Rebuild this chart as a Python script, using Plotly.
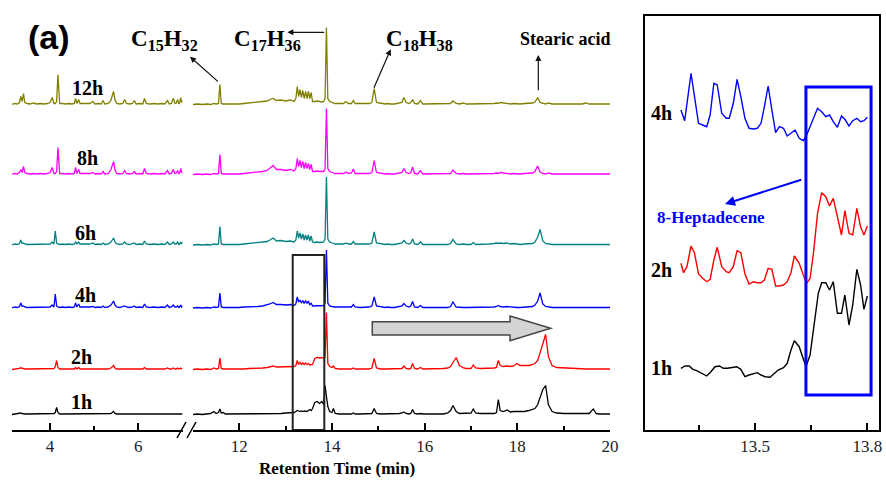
import plotly.graph_objects as go

W, H = 886, 481
MB = 51
PH = H - MB  # plot-area height in px


def PX(px):
    return px / W


def PY(py):
    return (PH - py) / PH


# ---------------- data ----------------
samples = ["12h", "8h", "6h", "4h", "2h", "1h"]
colors = ["#808000", "#ff00ff", "#008080", "#0000ff", "#ff0000", "#000000"]
offsets = [325.5, 255.5, 185, 122, 60.5, 15.5]

# left segment retention times (min)
L_T = [3.14, 3.20, 3.26, 3.31, 3.34, 3.37, 3.40, 3.43, 3.48, 3.55,
       3.62, 3.70, 3.78, 3.86, 3.94, 4.00, 4.05, 4.09, 4.12, 4.15,
       4.18, 4.22, 4.28, 4.35, 4.42, 4.50, 4.55, 4.58, 4.61, 4.65,
       4.68, 4.75, 4.82, 4.90, 4.97, 5.02, 5.10, 5.16, 5.20, 5.24,
       5.32, 5.38, 5.41, 5.44, 5.47, 5.51, 5.58, 5.65, 5.69, 5.73,
       5.80, 5.87, 5.91, 5.95, 6.03, 6.10, 6.14, 6.18, 6.26, 6.35,
       6.44, 6.53, 6.60, 6.66, 6.70, 6.75, 6.79, 6.83, 6.86, 6.89,
       6.92, 6.94, 6.96, 6.98, 7.00]

L_12h = [0, 1, 0.5, 2, 8, 3, 11, 2, 1, 0.5,
         1.5, 0.5, 1, 0.5, 1, 2, 7, 1, 1, 3,
         30, 1, 1, 0.5, 1, 0.5, 1, 6, 1, 5,
         1, 1, 0.5, 1, 3, 0.5, 1, 0.5, 4, 0.5,
         1, 4, 9, 13, 5, 1, 0.5, 1, 5, 1,
         0.5, 1, 4, 0.5, 1, 0.5, 6, 1, 0.5, 1,
         0.5, 1, 0.5, 4, 0.5, 1, 6, 1, 1.5, 5,
         0.5, 2, 7, 2, 4]
L_8h = [0, 1, 0.5, 2, 5, 2, 8, 2, 1, 0.5,
        1, 0.5, 1, 0.5, 1, 2, 7, 1, 1, 3,
        27, 1, 1, 0.5, 1, 0.5, 1, 7, 1, 5,
        1, 1, 0.5, 1, 2, 0.5, 1, 0.5, 3, 0.5,
        1, 5, 9, 13, 5, 1, 0.5, 1, 4, 1,
        0.5, 1, 3, 0.5, 1, 0.5, 6, 1, 0.5, 1,
        0.5, 1, 0.5, 4, 0.5, 1, 5, 1, 1.5, 4,
        0.5, 2, 6, 2, 3]
L_6h = [0, 1, 0.5, 1.5, 5, 1.5, 2, 1, 0.5, 0.5,
        1, 0.5, 1, 0.5, 1, 1, 3, 1, 14, 2,
        1, 0.5, 1, 0.5, 1, 0.5, 1, 3, 1, 3,
        1, 1, 0.5, 1, 2, 0.5, 1, 0.5, 2, 0.5,
        1, 3, 5, 7, 3, 1, 0.5, 1, 3, 1,
        0.5, 1, 2, 0.5, 1, 0.5, 4, 1, 0.5, 1,
        0.5, 1, 0.5, 3, 0.5, 1, 3, 1, 1, 3,
        0.5, 1.5, 3, 1, 3]
L_4h = [0, 1, 0.5, 1.5, 5, 1.5, 2, 1, 0.5, 0.5,
        1, 0.5, 1, 0.5, 1, 1, 3, 1, 14, 2,
        1, 0.5, 1, 0.5, 1, 0.5, 1, 5, 1, 4,
        1, 1, 0.5, 1, 1.5, 0.5, 1, 0.5, 2, 0.5,
        1, 3, 5, 7, 3, 1, 0.5, 1, 2, 1,
        0.5, 1, 2, 0.5, 1, 0.5, 4, 1, 0.5, 1,
        0.5, 1, 0.5, 3, 0.5, 1, 3, 1, 1, 2,
        0.5, 1.5, 3, 1, 2]
L_2h = [0, 0.5, 0.5, 1, 2, 1, 1, 0.5, 0.5, 0.5,
        0.5, 0.5, 0.5, 0.5, 0.5, 0.5, 1, 1, 3, 9,
        2, 0.5, 0.5, 0.5, 0.5, 0.5, 0.5, 2, 0.5, 2,
        0.5, 0.5, 0.5, 0.5, 1, 0.5, 0.5, 0.5, 1, 0.5,
        0.5, 1.5, 2.5, 4, 1.5, 0.5, 0.5, 0.5, 1, 0.5,
        0.5, 0.5, 1, 0.5, 0.5, 0.5, 2, 0.5, 0.5, 0.5,
        0.5, 0.5, 0.5, 1.5, 0.5, 0.5, 1.5, 0.5, 0.5, 1.5,
        0.5, 1, 1.5, 0.5, 1]
L_1h = [0, 0.5, 0.5, 1, 1.5, 1, 0.5, 0.5, 0.5, 0.5,
        0.5, 0.5, 0.5, 0.5, 0.5, 0.5, 0.5, 1, 2, 7,
        2, 0.5, 0.5, 0.5, 0.5, 0.5, 0.5, 1, 0.5, 1,
        0.5, 0.5, 0.5, 0.5, 0.5, 0.5, 0.5, 0.5, 0.5, 0.5,
        0.5, 1, 2, 3, 1, 0.5, 0.5, 0.5, 0.5, 0.5,
        0.5, 0.5, 0.5, 0.5, 0.5, 0.5, 1, 0.5, 0.5, 0.5,
        0.5, 0.5, 0.5, 0.5, 0.5, 0.5, 0.5, 0.5, 0.5, 0.5,
        0.5, 0.5, 1, 0.5, 0.5]

# right segment retention times (min)
R_T = [11.00, 11.10, 11.20, 11.30, 11.38, 11.45, 11.50, 11.55, 11.58, 11.61,
       11.65, 11.70, 11.80, 11.90, 12.00, 12.10, 12.20, 12.30, 12.40, 12.50,
       12.60, 12.66, 12.73, 12.80, 12.90, 13.00, 13.10, 13.18, 13.22, 13.25,
       13.28, 13.31, 13.34, 13.37, 13.40, 13.43, 13.46, 13.49, 13.52, 13.55,
       13.58, 13.63, 13.68, 13.73, 13.78, 13.82, 13.85, 13.88, 13.91, 13.95,
       14.00, 14.03, 14.07, 14.15, 14.25, 14.30, 14.35, 14.42, 14.46, 14.50,
       14.60, 14.70, 14.80, 14.86, 14.91, 14.96, 15.05, 15.15, 15.20, 15.25,
       15.35, 15.45, 15.51, 15.55, 15.60, 15.66, 15.70, 15.74, 15.78, 15.85,
       15.91, 15.96, 16.05, 16.15, 16.25, 16.40, 16.50, 16.56, 16.61, 16.68,
       16.75, 16.84, 16.90, 17.00, 17.05, 17.10, 17.20, 17.30, 17.40, 17.50,
       17.55, 17.59, 17.63, 17.70, 17.78, 17.85, 17.92, 17.99, 18.06, 18.15,
       18.25, 18.33, 18.38, 18.44, 18.49, 18.55, 18.61, 18.67, 18.75, 18.85,
       19.00, 19.15, 19.30, 19.40, 19.48, 19.55, 19.64, 19.70, 19.75, 19.85,
       20.00]

R_12h = [0, 0.5, 0, 0.5, 0, 1, 0.5, 1, 20, 1,
         0.5, 0.5, 0, 0.5, 0.5, 1, 1.5, 1.5, 2, 2.5,
         3.5, 5, 6, 4, 4.5, 3.5, 4.5, 3, 6, 18,
         8, 15, 7, 14, 6, 13, 6, 13, 6, 12,
         3, 3, 3.5, 3, 2.5, 3, 6, 77, 6, 3,
         2, 1.5, 1, 1, 1, 3, 1, 1, 4, 1,
         1, 0.5, 1, 2, 16, 2, 1, 0.5, 1, 0.5,
         0.5, 1, 2, 7, 2, 1, 2, 5, 1, 0.5,
         4, 0.5, 0.5, 0.5, 1, 0.5, 0.5, 1, 3.5, 1,
         0.5, 1.5, 0.5, 0.5, 0.5, 0.5, 0.5, 0.5, 1, 1,
         1.5, 1, 2, 1.5, 1, 0.5, 1, 0.5, 0.5, 1,
         1, 1.5, 2.5, 7, 2, 1, 0.5, 1.5, 0.5, 0.5,
         0.5, 0.5, 0.5, 0.5, 1.5, 0.5, 0.5, 0.5, 1, 0.5,
         0.5]
R_8h = [0, 0.5, 0, 0.5, 0, 1, 0.5, 1, 20, 1,
        0.5, 0.5, 0, 0.5, 0.5, 1, 1.5, 1.5, 2.5, 3,
        4, 6, 9, 5, 5, 4, 5, 3.5, 6, 16,
        8, 14, 7, 13, 6, 12, 6, 11, 5, 10,
        3, 3, 3.5, 3, 3, 3, 6, 66, 6, 3,
        2, 1.5, 1, 1, 1, 2.5, 1, 1.5, 5.5, 1,
        1, 0.5, 1, 2, 14, 2, 1, 0.5, 1, 0.5,
        0.5, 1, 2, 6, 2, 1, 2, 7.5, 1, 0.5,
        4, 0.5, 0.5, 0.5, 1, 0.5, 0.5, 1, 4.5, 1,
        0.5, 1, 0.5, 0.5, 0.5, 0.5, 0.5, 0.5, 1, 1,
        1.5, 1, 2, 1.5, 1, 0.5, 1, 0.5, 0.5, 1,
        1, 1.5, 3, 8.5, 2.5, 1, 0.5, 1.5, 0.5, 0.5,
        0.5, 0.5, 0.5, 0.5, 1, 0.5, 0.5, 0.5, 1, 0.5,
        0.5]
R_6h = [0, 0.5, 0, 0.5, 0, 1, 0.5, 1, 18.5, 1,
        0.5, 0.5, 0, 0.5, 0.5, 1, 1.5, 1.5, 2, 2.5,
        3.5, 5, 7, 4, 4.5, 3.5, 4, 3, 5, 14,
        7, 12, 6, 11, 5, 10, 5, 10, 4, 9,
        3, 2.5, 3, 2.5, 2.5, 3, 6, 68, 6, 3,
        2, 1.5, 1, 1, 1, 2, 1, 1, 3.5, 1,
        1, 0.5, 1, 2, 13, 2, 1, 0.5, 1, 0.5,
        0.5, 1, 2, 4.5, 2, 1, 2, 6, 1, 0.5,
        3, 0.5, 0.5, 0.5, 1, 0.5, 0.5, 1.5, 5.5, 1,
        0.5, 1, 0.5, 0.5, 2.5, 0.5, 0.5, 0.5, 1, 1.5,
        2, 1.5, 2, 1.5, 2, 1, 1.5, 1, 0.5, 1,
        1, 1.5, 3, 8, 15.5, 4, 1.5, 1, 0.5, 0.5,
        0.5, 0.5, 0.5, 0.5, 1, 0.5, 0.5, 0.5, 0.5, 0.5,
        0.5]
R_4h = [0, 0.5, 0, 0.5, 0, 1, 0.5, 1, 15, 1,
        0.5, 0.5, 0, 0.5, 0.5, 1, 1, 1.5, 1.5, 2,
        3, 4, 5.5, 3.5, 3.5, 3, 3.5, 2.5, 4, 11,
        6, 8, 5, 7.5, 4.5, 7.5, 4.5, 7, 3, 5,
        2, 2, 2.5, 2, 2, 2.5, 5, 58, 5, 2,
        1.5, 1, 1, 1, 1, 1.5, 1, 1, 3.5, 1,
        0.5, 0.5, 1, 2, 11, 2, 1, 0.5, 1, 0.5,
        0.5, 1, 2, 4.5, 2, 1, 2, 6.5, 1, 0.5,
        2.5, 0.5, 0.5, 0.5, 0.5, 0.5, 0.5, 1.5, 6, 1,
        0.5, 0.5, 0.5, 0.5, 1, 0.5, 0.5, 0.5, 1, 1,
        1.5, 2.5, 1.5, 1, 1.5, 1, 1, 0.5, 0.5, 1,
        1, 1.5, 3, 7, 15, 4, 1.5, 1, 0.5, 0.5,
        0.5, 0.5, 0.5, 0.5, 1, 0.5, 0.5, 0.5, 0.5, 0.5,
        0.5]
R_2h = [0, 0.5, 0, 0.5, 0, 1.5, 0.5, 1, 11.5, 1,
        0.5, 0.5, 0, 0.5, 0.5, 0.5, 1, 1, 1.5, 1.5,
        2, 2.5, 3.5, 2.5, 2.5, 2.5, 3, 3, 4, 9,
        5, 7, 5, 6.5, 5, 6.5, 5, 6, 4.5, 5,
        5, 11, 12, 11.5, 12, 11, 12, 57, 6, 3,
        2, 3.5, 1, 0.5, 0.5, 1, 0.5, 0.5, 1.5, 0.5,
        0.5, 0.5, 0.5, 1.5, 11, 1.5, 0.5, 0.5, 0.5, 0.5,
        0.5, 0.5, 1, 3.5, 1, 0.5, 1, 6, 1, 0.5,
        2, 0.5, 0.5, 0.5, 0.5, 1, 1.5, 3, 7, 12,
        4, 1.5, 1, 1, 4.5, 1.5, 1, 1, 1.5, 1.5,
        2, 9, 4, 3, 3.5, 3, 3.5, 6, 4, 4,
        4, 5, 6, 9, 16, 25, 35, 13, 4, 2,
        1.5, 1, 0.5, 0.5, 0.5, 0.5, 0.5, 0.5, 0.5, 0.5,
        0.5]
R_1h = [0, 0.5, 0, 0.5, 1, 3, 1, 2, 5.5, 1.5,
        2, 0.5, 0.5, 0.5, 0.5, 0.5, 0.5, 0.5, 0.5, 1,
        1, 1, 1, 1, 1, 1.5, 2, 2, 3, 4,
        3.5, 3, 3.5, 3, 3.5, 3, 3, 4, 5, 4,
        6, 12, 13, 11, 13, 10, 29, 18, 8, 3,
        2, 6, 1, 0.5, 0.5, 0.5, 0.5, 0.5, 1.5, 0.5,
        0.5, 0.5, 0.5, 1, 6, 1, 0.5, 0.5, 0.5, 0.5,
        0.5, 1, 1.5, 2.5, 1, 0.5, 1, 5, 1, 0.5,
        1, 0.5, 0.5, 0.5, 0.5, 0.5, 1.5, 4, 9, 3,
        1, 1, 1, 1.5, 5.5, 1.5, 1, 1, 1, 1,
        2, 15, 4, 3, 4.5, 2.5, 3, 3, 2.5, 3,
        4, 5, 6, 10, 18, 25, 29, 10, 3, 1.5,
        1, 1, 0.5, 0.5, 0.5, 1, 5.5, 1, 0.5, 0.5,
        0.5]

left_vals = [L_12h, L_8h, L_6h, L_4h, L_2h, L_1h]
right_vals = [R_12h, R_8h, R_6h, R_4h, R_2h, R_1h]

# inset (zoom on 13.3-13.8 min)
inset_samples = ["4h", "2h", "1h"]
inset_colors = ["#0000ff", "#ff0000", "#000000"]
inset_offsets = [285, 140, 50]
IN_T_4h = [13.302, 13.312, 13.329, 13.349, 13.360, 13.371, 13.380, 13.390, 13.399, 13.411,
           13.423, 13.431, 13.442, 13.452, 13.462, 13.473, 13.484, 13.496, 13.506, 13.516,
           13.525, 13.535, 13.545, 13.555, 13.565, 13.576, 13.586, 13.596, 13.607, 13.618,
           13.629, 13.638, 13.651, 13.667, 13.678, 13.689, 13.699, 13.709, 13.720, 13.731,
           13.740, 13.751, 13.761, 13.772, 13.782, 13.791, 13.800]
IN_V_4h = [35.0, 24.3, 71.7, 21.7, 20.0, 18.3, 30.0, 61.7, 60.0, 31.7,
           26.7, 26.7, 41.7, 65.7, 48.3, 26.7, 16.7, 16.0, 16.7, 21.7,
           38.3, 59.0, 35.0, 12.3, 18.3, 16.7, 9.0, 11.7, 15.0, 6.7,
           4.3, 10.0, 21.7, 36.7, 33.3, 28.3, 30.0, 23.3, 17.7, 29.0,
           25.7, 19.0, 24.3, 26.7, 23.3, 24.3, 27.7]
IN_T_2h = [13.302, 13.309, 13.318, 13.329, 13.338, 13.349, 13.360, 13.371, 13.380, 13.390,
           13.399, 13.411, 13.423, 13.431, 13.442, 13.452, 13.462, 13.473, 13.484, 13.496,
           13.506, 13.516, 13.525, 13.535, 13.545, 13.555, 13.565, 13.576, 13.586, 13.596,
           13.605, 13.618, 13.629, 13.638, 13.647, 13.656, 13.667, 13.678, 13.689, 13.699,
           13.709, 13.720, 13.731, 13.740, 13.751, 13.761, 13.772, 13.782, 13.791, 13.800]
IN_V_2h = [26.7, 17.3, 23.3, 44.0, 37.3, 16.0, 11.7, 8.3, 10.7, 30.0,
           42.7, 23.3, 18.3, 17.3, 23.3, 39.3, 37.3, 16.0, 6.0, 8.3,
           7.3, 7.3, 10.0, 21.7, 20.7, 4.0, 4.0, 5.0, 8.3, 17.3,
           34.0, 26.7, 15.0, 6.7, 11.7, 36.7, 76.7, 97.3, 93.3, 84.0,
           91.7, 71.7, 55.0, 79.3, 56.7, 55.0, 81.7, 63.3, 55.0, 64.0]
IN_T_1h = [13.302, 13.313, 13.324, 13.334, 13.344, 13.358, 13.371, 13.382, 13.393, 13.405,
           13.415, 13.426, 13.438, 13.451, 13.462, 13.473, 13.484, 13.496, 13.506, 13.516,
           13.527, 13.540, 13.551, 13.562, 13.576, 13.586, 13.596, 13.605, 13.618, 13.629,
           13.636, 13.647, 13.658, 13.669, 13.678, 13.689, 13.699, 13.709, 13.720, 13.731,
           13.740, 13.751, 13.761, 13.772, 13.782, 13.791, 13.800]
IN_V_1h = [11.7, 14.0, 14.0, 10.7, 9.3, 6.7, 4.0, 8.3, 13.3, 14.0,
           11.7, 11.7, 12.3, 13.3, 10.7, 3.3, 5.0, 6.0, 7.3, 5.0,
           3.3, 2.7, 6.0, 10.0, 12.3, 16.7, 30.0, 39.3, 33.3, 21.7,
           13.3, 25.0, 56.7, 86.7, 97.3, 97.3, 90.0, 98.3, 66.7, 66.7,
           85.0, 55.0, 75.0, 110.7, 95.0, 70.7, 84.0]
inset_t = [IN_T_4h, IN_T_2h, IN_T_1h]
inset_v = [IN_V_4h, IN_V_2h, IN_V_1h]

LEFT_TICKS = [4, 6]
LEFT_MINOR = [5]
RIGHT_TICKS = [12, 14, 16, 18, 20]
RIGHT_MINOR = [13, 15, 17, 19]
INSET_TICKS = [13.5, 13.8]
INSET_MINOR = [13.35, 13.65]

# ---------------- figure ----------------
fig = go.Figure()
for name, col, off, lv, rv in zip(samples, colors, offsets, left_vals, right_vals):
    fig.add_trace(go.Scatter(x=L_T, y=[off + v for v in lv], mode="lines",
                             line=dict(color=col, width=1.3), xaxis="x", yaxis="y",
                             name=name, showlegend=False))
    fig.add_trace(go.Scatter(x=R_T, y=[off + v for v in rv], mode="lines",
                             line=dict(color=col, width=1.3), xaxis="x2", yaxis="y",
                             name=name, showlegend=False))

for name, col, off, tt, vv in zip(inset_samples, inset_colors, inset_offsets, inset_t, inset_v):
    fig.add_trace(go.Scatter(x=tt, y=[off + v for v in vv], mode="lines",
                             line=dict(color=col, width=1.4), xaxis="x3", yaxis="y3",
                             name=name, showlegend=False))

SERIF = "Liberation Serif, Times New Roman, serif"
tickfont = dict(family=SERIF, size=17, color="#222")

common_x = dict(showline=True, linecolor="#000", linewidth=2, ticks="inside",
                ticklen=7, tickwidth=1.5, tickcolor="#000", showgrid=False,
                zeroline=False, tickfont=tickfont, tickmode="array", anchor="y")

fig.update_layout(
    width=W, height=H,
    margin=dict(l=0, r=0, t=0, b=MB, autoexpand=False),
    paper_bgcolor="white", plot_bgcolor="white",
    xaxis=dict(domain=[PX(12), PX(182.5)], range=[3.14, 7.0], tickvals=LEFT_TICKS,
               minor=dict(tickmode="array", tickvals=LEFT_MINOR, ticks="inside", ticklen=4,
                          tickwidth=1.5, tickcolor="#000"),
               **common_x),
    xaxis2=dict(domain=[PX(193), PX(610)], range=[11.0, 20.0], tickvals=RIGHT_TICKS,
                minor=dict(tickmode="array", tickvals=RIGHT_MINOR, ticks="inside", ticklen=4,
                           tickwidth=1.5, tickcolor="#000"),
                **common_x),
    yaxis=dict(domain=[0, 1], range=[0, PH], visible=False),
    xaxis3=dict(domain=[PX(645), PX(879.3)], range=[13.206, 13.832], anchor="y3",
                tickmode="array", tickvals=INSET_TICKS, ticktext=["13.5", "13.8"],
                showline=True, mirror=True, linecolor="#000", linewidth=2,
                ticks="inside", ticklen=7, tickwidth=1.5, tickcolor="#000",
                minor=dict(tickmode="array", tickvals=INSET_MINOR, ticks="inside", ticklen=5,
                           tickwidth=1.5, tickcolor="#000"),
                showgrid=False, zeroline=False, tickfont=tickfont),
    yaxis3=dict(domain=[0, PY(15.7)], range=[0, PH - 15.7], anchor="x3",
                showline=True, mirror=True, linecolor="#000", linewidth=2,
                showticklabels=False, ticks="", showgrid=False, zeroline=False),
)

shapes = []
# broken-axis marks
for x0 in (177, 187):
    shapes.append(dict(type="line", xref="paper", yref="paper",
                       x0=PX(x0), y0=PY(438), x1=PX(x0 + 9), y1=PY(422),
                       line=dict(color="#000", width=1.5)))
# highlight box in the main panel
shapes.append(dict(type="rect", xref="x2", yref="y", x0=13.152, x1=13.834, y0=0, y1=175,
                   line=dict(color="#222", width=2), fillcolor="rgba(0,0,0,0)"))
# grey arrow
ax_pts = [(372.3, 321.7), (510, 321.7), (510, 316), (550.7, 328.3), (510, 340.7),
          (510, 335), (372.3, 335)]
path = "M " + " L ".join(f"{PX(a):.5f},{PY(b):.5f}" for a, b in ax_pts) + " Z"
shapes.append(dict(type="path", xref="paper", yref="paper", path=path,
                   fillcolor="#d4d4d4", line=dict(color="#444", width=1.5)))
# blue box in inset
shapes.append(dict(type="rect", xref="x3", yref="y3", x0=13.636, x1=13.81, y0=35, y1=343,
                   line=dict(color="#0000ff", width=3), fillcolor="rgba(0,0,0,0)"))
fig.update_layout(shapes=shapes)

ann = []


def label(text, cx, cy, size, color="#000", family=SERIF):
    return dict(text=text, x=PX(cx), y=PY(cy), xref="paper", yref="paper",
                xanchor="center", yanchor="middle", showarrow=False,
                font=dict(family=family, size=size, color=color))


ann.append(label("<b>(a)</b>", 49, 37, 34, family="Liberation Sans, Arial, sans-serif"))
for txt, cx in (("C<sub>15</sub>H<sub>32</sub>", 164), ("C<sub>17</sub>H<sub>36</sub>", 267),
                ("C<sub>18</sub>H<sub>38</sub>", 419)):
    ann.append(label(f"<b>{txt}</b>", cx, 40, 23))
ann.append(label("<b>Stearic acid</b>", 565, 39, 18))

# arrows (head at x,y ; tail offset ax, ay in px)
for hx, hy, tx, ty in ((190, 56.7, 219.3, 82.7), (287.3, 32.3, 325.7, 32.3),
                       (390.7, 49.3, 373.3, 89.3), (538.3, 55, 538.3, 91.7)):
    ann.append(dict(text="", x=PX(hx), y=PY(hy), xref="paper", yref="paper",
                    showarrow=True, ax=tx - hx, ay=ty - hy,
                    arrowhead=2, arrowsize=1, arrowwidth=1.2, arrowcolor="#111", standoff=0))

# sample labels (main)
for lab, cx, cy in (("12h", 87, 88), ("8h", 87, 158), ("6h", 85, 233), ("4h", 85, 295),
                    ("2h", 81, 357), ("1h", 81, 402)):
    ann.append(label(f"<b>{lab}</b>", cx, cy, 20))
# inset labels
for lab, cy in (("4h", 113), ("2h", 270), ("1h", 368)):
    ann.append(label(f"<b>{lab}</b>", 661, cy, 20))
ann.append(label("<b>8-Heptadecene</b>", 711, 218, 17, color="#0000ff"))
ann.append(dict(text="", x=PX(725), y=PY(204), xref="paper", yref="paper", showarrow=True,
                ax=802.7 - 725, ay=179.3 - 204, arrowhead=2, arrowsize=1, arrowwidth=2,
                arrowcolor="#0000ff", standoff=0))
ann.append(label("<b>Retention Time (min)</b>", 337, 468, 17))
fig.update_layout(annotations=ann)

fig.write_html("out.html", config={"displayModeBar": False},
               post_script="document.body.style.margin='0';"
                           "document.documentElement.style.overflow='hidden';")
